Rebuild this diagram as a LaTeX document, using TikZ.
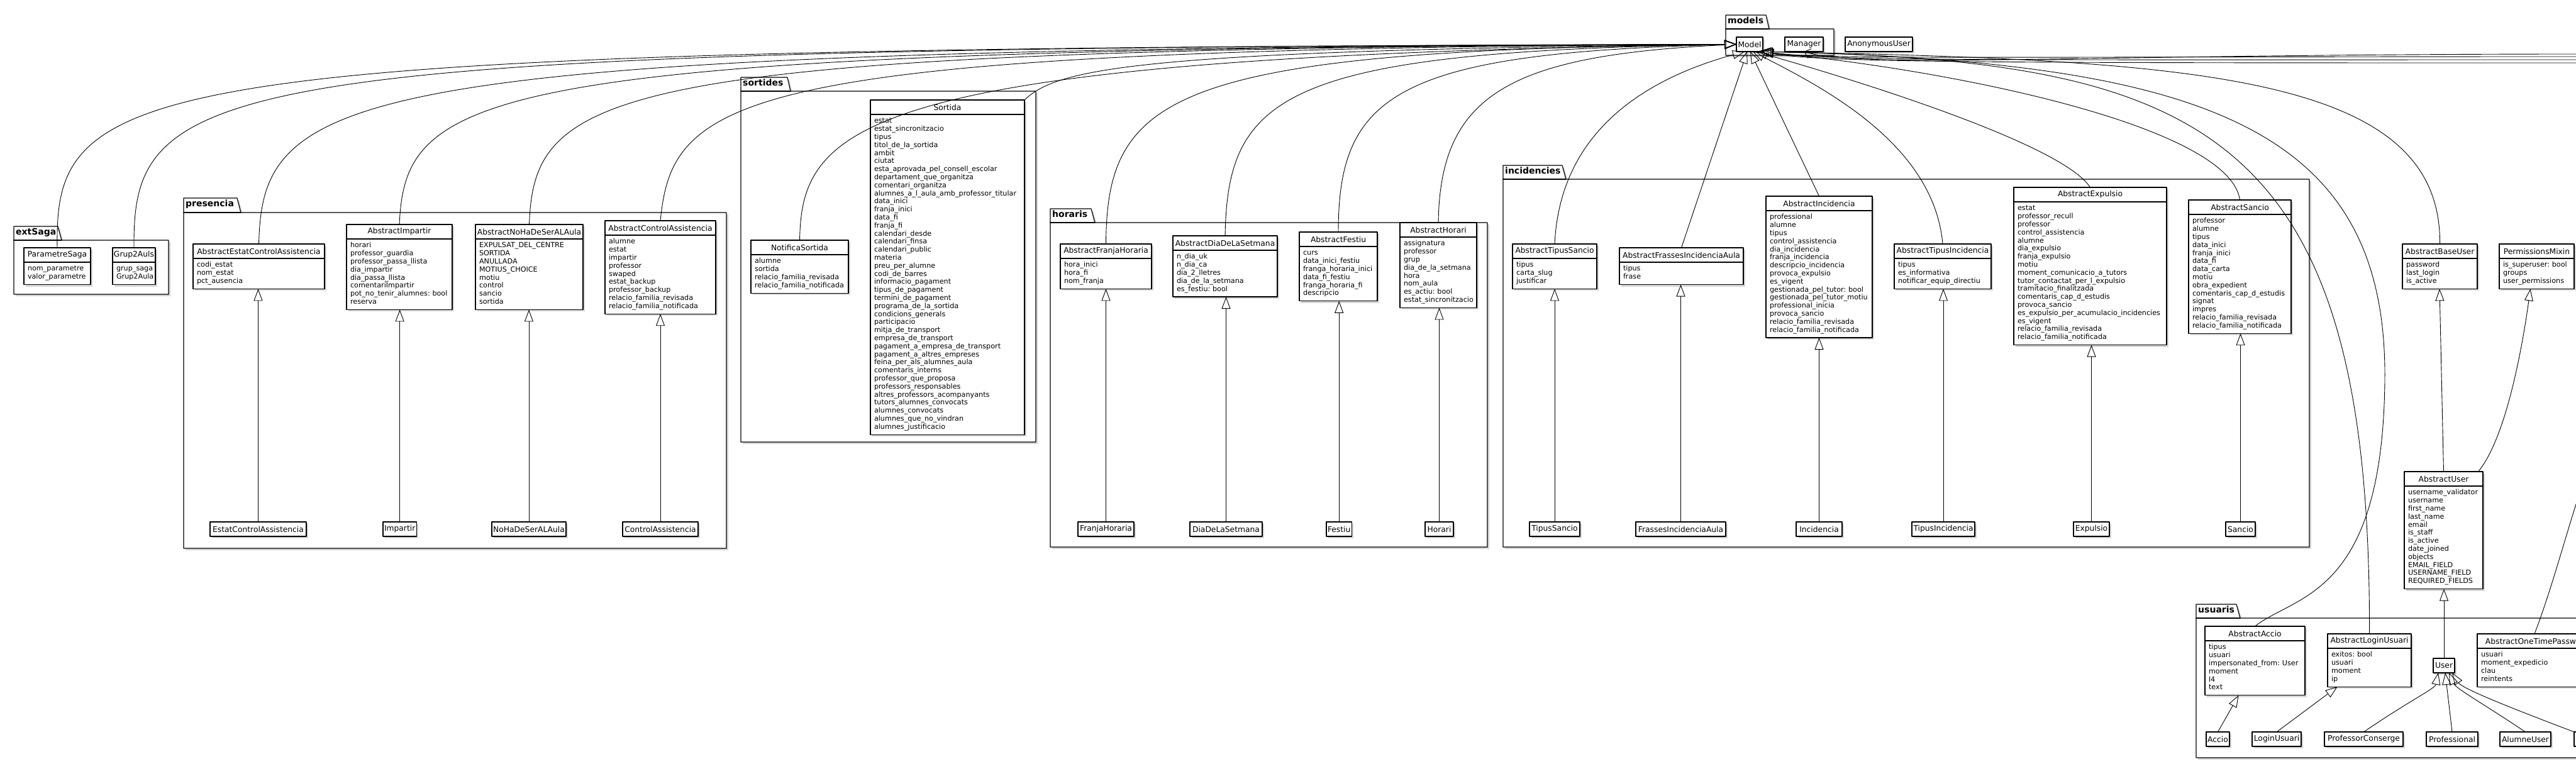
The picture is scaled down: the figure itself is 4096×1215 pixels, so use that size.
\documentclass[tikz,border=0pt]{standalone}
\usepackage{fontspec}
\setmainfont{DejaVu Sans}
\usetikzlibrary{positioning, shadows, arrows.meta}

\hyphenpenalty=10000
\exhyphenpenalty=10000

\newcommand{\attrfont}{\fontsize{11.2}{12.8}\selectfont}
\newcommand{\namefont}{\fontsize{12.3}{14}\selectfont}
\newcommand{\pkgfont}{\fontsize{14}{16}\selectfont\bfseries}

% class box: name, x, y, width, title, attributes
\newcommand{\umlclass}[6]{%
  \pgfmathsetmacro{\clstw}{#4-12}%
  \node[clshead, minimum width=#4pt] (#1) at (#2,#3) {#5};
  \node[clsbody, minimum width=#4pt, text width=\clstw pt] (#1-b) at (#1.south west) {#6};
}

% package: x1, ytab, xtab top, xtab bottom, ybody, x2, y2, label
\newcommand{\umlpkg}[8]{%
  \path[pkg] (#1,#5) -- (#1,#2) -- (#3,#2) -- (#4,#5) -- (#6,#5) -- (#6,#7) -- (#1,#7) -- cycle;
  \draw[pkgline] (#1,#5) -- (#4,#5);
  \node[pkglabel] (pkg-#8) at (#1,#2) {#8};
}

\begin{document}
\begin{tikzpicture}[
        x=1pt,
        y=-1pt,
        line join=round,
        line cap=round,
        shadowed/.style={drop shadow={shadow xshift=3pt, shadow yshift=-3pt, fill=black!35, opacity=.45}},
        clshead/.style={draw, line width=1.2pt, fill=white, anchor=north west, outer sep=0pt,
            minimum height=23pt, inner sep=0pt, font=\namefont, shadowed},
        clsbody/.style={draw, line width=1.2pt, fill=white, anchor=north west, outer sep=0pt,
            inner xsep=6pt, inner ysep=5pt, align=left, font=\attrfont,
            execute at begin node=\strut, execute at end node=\strut, shadowed},
        leaf/.style={draw, line width=1.2pt, fill=white, anchor=north west, outer sep=0pt,
            minimum height=23pt, inner xsep=2pt, inner ysep=0pt, font=\namefont, shadowed},
        pkg/.style={draw, line width=1.2pt, fill=white, shadowed},
        pkgline/.style={line width=1.2pt},
        pkglabel/.style={anchor=north west, inner xsep=3pt, inner ysep=3pt, font=\pkgfont},
        gen/.style={line width=0.9pt, -{Triangle[open, length=19pt, width=14pt]}},
        uses/.style={line width=0.9pt, -{Straight Barb[length=9pt, width=16pt]}}
    ]

    \fill[white] (0,0) rectangle (4096,1215);
    \useasboundingbox (0,0) rectangle (4096,1215);

    % =================================
    % PACKAGES
    % =================================
    \umlpkg{22}{360}{92}{98}{382}{268}{468}{extSaga}
    \umlpkg{292}{315}{377}{383}{338}{1155}{872}{presencia}
    \umlpkg{1178}{123}{1252}{1257}{145}{1647}{703}{sortides}
    \umlpkg{1670}{332}{1735}{1741}{354}{2365}{870}{horaris}
    \umlpkg{2390}{263}{2484}{2490}{285}{3672}{870}{incidencies}
    \umlpkg{2744}{24}{2808}{2813}{46}{2916}{88}{models}
    \umlpkg{3492}{961}{3556}{3562}{983}{4130}{1205}{usuaris}

    % =================================
    % models
    % =================================
    \node[leaf, minimum width=42pt] (model) at (2761,59) {Model};
    \node[leaf, minimum width=61pt] (manager) at (2838,59) {Manager};
    \node[leaf, minimum width=107pt] (anon) at (2934,59) {AnonymousUser};

    % =================================
    % extSaga
    % =================================
    \umlclass{psaga}{38}{394}{106}{ParametreSaga}{nom\_parametre\\valor\_parametre}
    \umlclass{g2a}{179}{394}{68}{Grup2Auls}{grup\_saga\\Grup2Aula}

    % =================================
    % presencia
    % =================================
    \umlclass{aeca}{307}{388}{209}{AbstractEstatControlAssistencia}
        {codi\_estat\\nom\_estat\\pct\_ausencia}
    \umlclass{aimp}{551}{357}{168}{AbstractImpartir}
        {horari\\professor\_guardia\\professor\_passa\_llista\\dia\_impartir\\dia\_passa\_llista\\comentariImpartir\\pot\_no\_tenir\_alumnes:~bool\\reserva}
    \umlclass{anhd}{756}{357}{171}{AbstractNoHaDeSerALAula}
        {EXPULSAT\_DEL\_CENTRE\\SORTIDA\\ANULLADA\\MOTIUS\_CHOICE\\motiu\\control\\sancio\\sortida}
    \umlclass{aca}{962}{351}{176}{AbstractControlAssistencia}
        {alumne\\estat\\impartir\\professor\\swaped\\estat\_backup\\professor\_backup\\relacio\_familia\_revisada\\relacio\_familia\_notificada}

    \node[leaf, minimum width=153pt] (eca) at (334,830) {EstatControlAssistencia};
    \node[leaf, minimum width=53pt] (imp) at (609,830) {Impartir};
    \node[leaf, minimum width=118pt] (nhd) at (782,830) {NoHaDeSerALAula};
    \node[leaf, minimum width=120pt] (ca) at (990,830) {ControlAssistencia};

    % =================================
    % sortides
    % =================================
    \umlclass{nots}{1194}{382}{155}{NotificaSortida}
        {alumne\\sortida\\relacio\_familia\_revisada\\relacio\_familia\_notificada}
    \umlclass{sort}{1384}{159}{245}{Sortida}
        {estat\\estat\_sincronitzacio\\tipus\\titol\_de\_la\_sortida\\ambit\\ciutat\\esta\_aprovada\_pel\_consell\_escolar\\departament\_que\_organitza\\comentari\_organitza\\alumnes\_a\_l\_aula\_amb\_professor\_titular\\data\_inici\\franja\_inici\\data\_fi\\franja\_fi\\calendari\_desde\\calendari\_finsa\\calendari\_public\\materia\\preu\_per\_alumne\\codi\_de\_barres\\informacio\_pagament\\tipus\_de\_pagament\\termini\_de\_pagament\\programa\_de\_la\_sortida\\condicions\_generals\\participacio\\mitja\_de\_transport\\empresa\_de\_transport\\pagament\_a\_empresa\_de\_transport\\pagament\_a\_altres\_empreses\\feina\_per\_als\_alumnes\_aula\\comentaris\_interns\\professor\_que\_proposa\\professors\_responsables\\altres\_professors\_acompanyants\\tutors\_alumnes\_convocats\\alumnes\_convocats\\alumnes\_que\_no\_vindran\\alumnes\_justificacio}

    % =================================
    % horaris
    % =================================
    \umlclass{afh}{1686}{388}{145}{AbstractFranjaHoraria}
        {hora\_inici\\hora\_fi\\nom\_franja}
    \umlclass{ads}{1865}{375}{166}{AbstractDiaDeLaSetmana}
        {n\_dia\_uk\\n\_dia\_ca\\dia\_2\_lletres\\dia\_de\_la\_setmana\\es\_festiu:~bool}
    \umlclass{afe}{2066}{369}{124}{AbstractFestiu}
        {curs\\data\_inici\_festiu\\franga\_horaria\_inici\\data\_fi\_festiu\\franga\_horaria\_fi\\descripcio}
    \umlclass{aho}{2226}{354}{122}{AbstractHorari}
        {assignatura\\professor\\grup\\dia\_de\_la\_setmana\\hora\\nom\_aula\\es\_actiu:~bool\\estat\_sincronitzacio}

    \node[leaf, minimum width=89pt] (fh) at (1714,830) {FranjaHoraria};
    \node[leaf, minimum width=115pt] (ds) at (1892,830) {DiaDeLaSetmana};
    \node[leaf, minimum width=39pt] (fe) at (2109,830) {Festiu};
    \node[leaf, minimum width=45pt] (ho) at (2266,830) {Horari};

    % =================================
    % incidencies
    % =================================
    \umlclass{ats}{2405}{388}{134}{AbstractTipusSancio}
        {tipus\\carta\_slug\\justificar}
    \umlclass{afi}{2575}{394}{197}{AbstractFrassesIncidenciaAula}
        {tipus\\frase}
    \umlclass{ainc}{2808}{312}{169}{AbstractIncidencia}
        {professional\\alumne\\tipus\\control\_assistencia\\dia\_incidencia\\franja\_incidencia\\descripcio\_incidencia\\provoca\_expulsio\\es\_vigent\\gestionada\_pel\_tutor:~bool\\gestionada\_pel\_tutor\_motiu\\professional\_inicia\\provoca\_sancio\\relacio\_familia\_revisada\\relacio\_familia\_notificada}
    \umlclass{ati}{3012}{388}{154}{AbstractTipusIncidencia}
        {tipus\\es\_informativa\\notificar\_equip\_directiu}
    \umlclass{aexp}{3202}{298}{243}{AbstractExpulsio}
        {estat\\professor\_recull\\professor\\control\_assistencia\\alumne\\dia\_expulsio\\franja\_expulsio\\motiu\\moment\_comunicacio\_a\_tutors\\tutor\_contactat\_per\_l\_expulsio\\tramitacio\_finalitzada\\comentaris\_cap\_d\_estudis\\provoca\_sancio\\es\_expulsio\_per\_acumulacio\_incidencies\\es\_vigent\\relacio\_familia\_revisada\\relacio\_familia\_notificada}
    \umlclass{asan}{3480}{318}{163}{AbstractSancio}
        {professor\\alumne\\tipus\\data\_inici\\franja\_inici\\data\_fi\\data\_carta\\motiu\\obra\_expedient\\comentaris\_cap\_d\_estudis\\signat\\impres\\relacio\_familia\_revisada\\relacio\_familia\_notificada}

    \node[leaf, minimum width=80pt] (ts) at (2432,830) {TipusSancio};
    \node[leaf, minimum width=143pt] (fi) at (2601,830) {FrassesIncidenciaAula};
    \node[leaf, minimum width=73pt] (inc) at (2856,830) {Incidencia};
    \node[leaf, minimum width=100pt] (ti) at (3040,830) {TipusIncidencia};
    \node[leaf, minimum width=57pt] (exp) at (3297,830) {Expulsio};
    \node[leaf, minimum width=47pt] (san) at (3539,830) {Sancio};

    % =================================
    % usuaris (auth)
    % =================================
    \umlclass{abu}{3820}{388}{119}{AbstractBaseUser}
        {password\\last\_login\\is\_active}
    \umlclass{pm}{3974}{388}{119}{PermissionsMixin}
        {is\_superuser:~bool\\groups\\user\_permissions}
    \umlclass{au}{3823}{750}{125}{AbstractUser}
        {username\_validator\\username\\first\_name\\last\_name\\email\\is\_staff\\is\_active\\date\_joined\\objects\\EMAIL\_FIELD\\USERNAME\_FIELD\\REQUIRED\_FIELDS}

    \umlclass{aacc}{3506}{996}{159}{AbstractAccio}
        {tipus\\usuari\\impersonated\_from:~User\\moment\\l4\\text}
    \umlclass{alog}{3701}{1008}{133}{AbstractLoginUsuari}
        {exitos:~bool\\usuari\\moment\\ip}
    \node[leaf, minimum width=34pt] (user) at (3869,1047) {User};
    \umlclass{aotp}{3939}{1008}{190}{AbstractOneTimePassword}
        {usuari\\moment\_expedicio\\clau\\reintents}

    \node[leaf, minimum width=37pt] (accio) at (3508,1164) {Accio};
    \node[leaf, minimum width=78pt] (logu) at (3581,1164) {LoginUsuari};
    \node[leaf, minimum width=125pt] (pcons) at (3696,1164) {ProfessorConserge};
    \node[leaf, minimum width=82pt] (prof) at (3858,1164) {Professional};
    \node[leaf, minimum width=81pt] (alu) at (3975,1164) {AlumneUser};
    \node[leaf, minimum width=60pt] (more) at (4093,1164) {};

    % classes beyond the right edge
    \coordinate (offA) at (4100,90);
    \coordinate (offB) at (4100,95);
    \coordinate (offC) at (4100,100);
    \coordinate (offD) at (4100,86);
    \coordinate (offE) at (4110,760);

    % =================================
    % HERENCIA DINS ELS PAQUETS
    % =================================
    \draw[gen] (eca.north) -- (eca.north |- aeca-b.south);
    \draw[gen] (imp.north) -- (imp.north |- aimp-b.south);
    \draw[gen] (nhd.north) -- (nhd.north |- anhd-b.south);
    \draw[gen] (ca.north) -- (ca.north |- aca-b.south);

    \draw[gen] (fh.north) -- (fh.north |- afh-b.south);
    \draw[gen] (ds.north) -- (ds.north |- ads-b.south);
    \draw[gen] (fe.north) -- (fe.north |- afe-b.south);
    \draw[gen] (ho.north) -- (ho.north |- aho-b.south);

    \draw[gen] (ts.north) -- (ts.north |- ats-b.south);
    \draw[gen] (fi.north) -- (fi.north |- afi-b.south);
    \draw[gen] (inc.north) -- (inc.north |- ainc-b.south);
    \draw[gen] (ti.north) -- (ti.north |- ati-b.south);
    \draw[gen] (exp.north) -- (exp.north |- aexp-b.south);
    \draw[gen] (san.north) -- (san.north |- asan-b.south);

    \draw[gen] (accio.north) -- ([xshift=-26pt]aacc-b.south);
    \draw[gen] (logu.north) -- ([xshift=-51pt]alog-b.south);
    \draw[gen] (pcons.north) .. controls (3830,1115) and (3872,1095) .. ([xshift=-9pt]user.south);
    \draw[gen] (prof.north) -- ([xshift=2pt]user.south);
    \draw[gen] (alu.north) .. controls (3950,1120) and (3905,1095) .. ([xshift=8pt]user.south);
    \draw[gen] (more.north west) .. controls (3990,1125) and (3915,1095) .. ([xshift=13pt]user.south);
    \draw[gen] (user.north) -- (user.north |- au-b.south);
    \draw[gen] (au.north) -- ([xshift=-0.5pt]abu-b.south);
    \draw[gen] ([xshift=55pt]au.north) .. controls (3990,690) and (4015,520) .. ([xshift=-10pt]pm-b.south);
    \draw[line width=0.9pt] ([xshift=-4pt]aotp.north) .. controls (4060,930) and (4085,830) .. (offE);

    % =================================
    % HERENCIA DE Model
    % =================================
    \draw[gen] (psaga.north) .. controls (87,120) and (200,76) .. (model.west);
    \draw[gen] (g2a.north) .. controls (211,120) and (330,76) .. (model.west);
    \draw[gen] (aeca.north) .. controls (418,140) and (540,77) .. (model.west);
    \draw[gen] (aimp.north) .. controls (645,140) and (760,77) .. (model.west);
    \draw[gen] (anhd.north) .. controls (850,140) and (960,77) .. (model.west);
    \draw[gen] (aca.north) .. controls (1070,150) and (1170,78) .. (model.west);
    \draw[gen] (nots.north) .. controls (1275,200) and (1360,90) .. (model.west);
    \draw[gen] (sort.north east) .. controls (1680,110) and (1800,80) .. (model.west);
    \draw[gen] (afh.north) .. controls (1760,150) and (1860,80) .. (model.west);
    \draw[gen] (ads.north) .. controls (1952,150) and (2040,82) .. (model.west);
    \draw[gen] (afe.north) .. controls (2128,150) and (2220,84) .. (model.west);
    \draw[gen] (aho.north) .. controls (2290,150) and (2400,88) .. (model.west);

    \draw[gen] (ats.north) .. controls (2480,220) and (2600,130) .. ([xshift=-8pt]model.south);
    \draw[gen] (afi.north) -- ([xshift=-4pt]model.south);
    \draw[gen] (ainc.north) -- ([xshift=1pt]model.south);
    \draw[gen] (ati.north) .. controls (3075,230) and (2900,140) .. ([xshift=5pt]model.south);
    \draw[gen] (aexp.north) .. controls (3280,230) and (2960,130) .. ([xshift=9pt]model.south);
    \draw[gen] (asan.north) .. controls (3545,200) and (3100,110) .. ([xshift=12pt]model.south);
    \draw[gen] (abu.north) .. controls (3882,120) and (3500,96) .. ([xshift=15pt]model.south);
    \draw[gen] (aacc.north) .. controls (3650,945) and (3790,950) .. (3792,600)
        .. controls (3794,200) and (3500,98) .. ([xshift=17pt]model.south);
    \draw[gen] (alog.north) .. controls (3770,200) and (3500,97) .. ([xshift=18pt]model.south);
    \draw[gen] (offA) .. controls (3200,90) and (2900,95) .. ([xshift=19pt]model.south);
    \draw[gen] (offB) .. controls (3200,95) and (2900,97) .. ([xshift=19pt]model.south);
    \draw[gen] (offC) .. controls (3200,100) and (2900,100) .. ([xshift=19pt]model.south);
    \draw[uses] (offD) .. controls (3300,86) and (2950,110) .. (manager.south);

\end{tikzpicture}
\end{document}
